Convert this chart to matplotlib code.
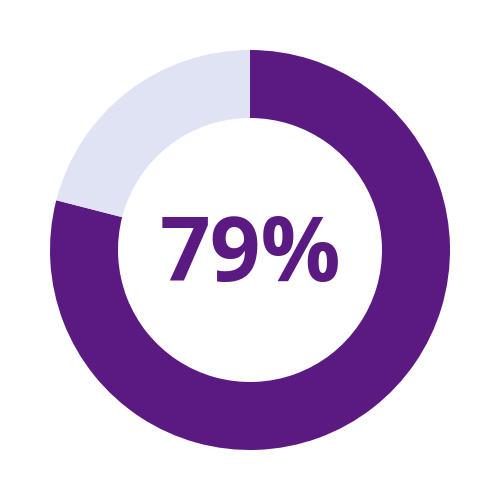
import matplotlib.pyplot as plt

labels = ['Yes', 'No']
values = [79, 21]
colors = ['#5b1a82', '#dfe3f4']
center_text = '79%'

fig = plt.figure(figsize=(5, 5), dpi=100)
ax = fig.add_axes([0, 0, 1, 1])
ax.pie(values, colors=colors, startangle=90, counterclock=False,
       radius=0.8, wedgeprops=dict(width=0.272, edgecolor='none'))
ax.text(0, -0.03, center_text, ha='center', va='center', fontsize=64,
        fontweight='bold', family=['Open Sans', 'DejaVu Sans'], color='#5b1a82')
ax.set_xlim(-1, 1)
ax.set_ylim(-1, 1)
ax.set_aspect('equal')
ax.axis('off')
fig.savefig('out.png', dpi=100)
